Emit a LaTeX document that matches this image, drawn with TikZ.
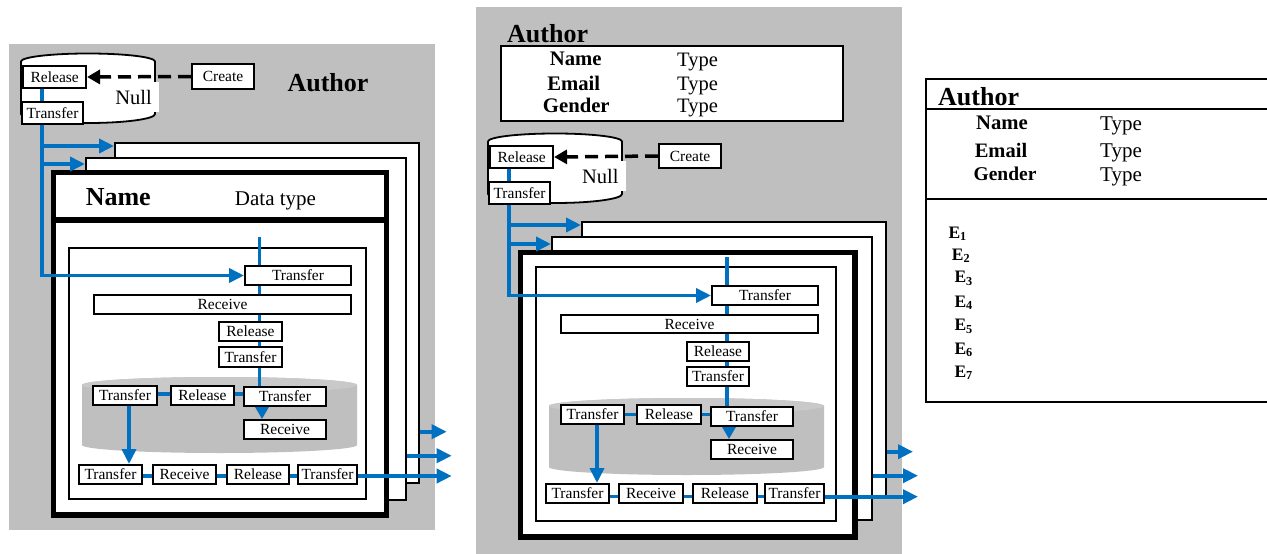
\documentclass[tikz,border=0pt]{standalone}
\usepackage{fontspec}
\setmainfont{Liberation Serif}
\usetikzlibrary{arrows.meta,calc}
\definecolor{bgray}{RGB}{191,191,191}
\definecolor{ctop}{RGB}{201,201,201}
\definecolor{myblue}{RGB}{0,112,192}
\newcommand\myfs[1]{\fontsize{#1pt}{#1pt}\selectfont}
\tikzset{
  bx/.style={draw, fill=white, line width=2pt, inner sep=0pt, font=\myfs{15.5}, minimum height=19pt},
  card/.style={draw, fill=white, line width=2pt, inner sep=0pt},
  frame/.style={draw, line width=2pt, inner sep=0pt},
  blu/.style={draw=myblue, line width=3.6pt},
  arr/.style={blu, -{Triangle[length=15pt,width=14pt]}},
  arrs/.style={blu, -{Triangle[length=12pt,width=13pt]}},
  dsh/.style={line width=3.5pt, dash pattern=on 13pt off 7pt, -{Triangle[length=13pt,width=14pt]}},
  lbl/.style={inner sep=0pt},
}
\begin{document}
\begin{tikzpicture}[x=1pt,y=-1pt]
\useasboundingbox (0,0) rectangle (1267,554);
\fill[white] (0,0) rectangle (1267,554);

%================ PANEL 1 =================
\fill[bgray] (9,44) rectangle (435,530);
% cylinder
\draw[line width=1.8pt, fill=white] (21,61.5) arc[start angle=180, end angle=0, x radius=67pt, y radius=8pt]
  -- (155,114) arc[start angle=0, end angle=-180, x radius=67pt, y radius=9pt] -- cycle;
\node[fill=white, inner xsep=7pt, inner ysep=0pt, minimum height=30pt, font=\myfs{20.5}] (n1) at (133.5,97) {Null};
\node[bx, minimum width=62.7pt, minimum height=22.6pt] (r1) at (54.7,77) {Release};
\node[bx, minimum width=61.6pt, minimum height=22.3pt] (t1) at (52.5,112.8) {Transfer};
\node[bx, minimum width=62pt, minimum height=25pt] (c1) at (223,76.5) {Create};
\draw[dsh] (c1.west) -- (r1.east);
\node[lbl, anchor=base, font=\bfseries\myfs{26}] (au1) at (328,91.7) {Author};

% cards
\node[card, minimum width=303.5pt, minimum height=340pt] (k1a) at (266.75,313) {};
\node[card, minimum width=319.7pt, minimum height=342pt] (k1b) at (245.85,329) {};
\node[card, line width=5.5pt, minimum width=332.8pt, minimum height=342.5pt] (k1c) at (220,343.75) {};
\draw[line width=5.5pt] ([yshift=-50pt]k1c.north west) -- ([yshift=-50pt]k1c.north east);
\node[lbl, anchor=base, font=\bfseries\myfs{26}] (nm1) at (118.3,205.7) {Name};
\node[lbl, anchor=base, font=\myfs{21}] (dt1) at (275.5,205.7) {Data type};
\node[frame, minimum width=297pt, minimum height=251pt] (i1) at (217.5,373.5) {};

% gray cylinder
\fill[bgray] (82,385) arc[start angle=180, end angle=0, x radius=137.5pt, y radius=8pt]
  -- (357,445) arc[start angle=0, end angle=-180, x radius=137.5pt, y radius=8pt] -- cycle;
\fill[ctop] (219.5,385) ellipse[x radius=137.5pt, y radius=8pt];

% boxes
\node[bx, minimum width=106pt] (a1) at (298,275.5) {Transfer};
\node[bx, minimum width=257pt] (a2) at (222.5,304.5) {Receive};
\node[bx, minimum width=63pt] (a3) at (250.5,331.5) {Release};
\node[bx, minimum width=63pt, minimum height=20pt] (a4) at (250.5,357) {Transfer};
\node[bx, minimum width=64pt] (a5) at (125,395.5) {Transfer};
\node[bx, minimum width=63pt] (a6) at (202.5,395.5) {Release};
\node[bx, minimum width=82pt] (a7) at (285,396.5) {Transfer};
\node[bx, minimum width=82pt] (a8) at (285,429.5) {Receive};
\node[bx, minimum width=63pt] (a9) at (110.5,474.5) {Transfer};
\node[bx, minimum width=63pt] (a10) at (184.5,474.5) {Receive};
\node[bx, minimum width=62pt] (a11) at (258,474.5) {Release};
\node[bx, minimum width=59pt] (a12) at (327.5,474.5) {Transfer};

% blue connectors
\coordinate (p1c) at (41.7,275.5);
\coordinate (b11) at (41.7,146);
\coordinate (b12) at (41.7,164);
\draw[blu] (r1.south -| p1c) -- (t1.north -| p1c);
\draw[arr] (t1.south -| p1c) -- (p1c) -- (a1.west);
\draw[arr] (b11) -- (b11 -| k1a.west);
\draw[arr] (b12) -- (b12 -| k1b.west);
\coordinate (v1) at (259.5,237);
\draw[blu] (v1) -- (a1.north -| v1);
\draw[blu] (a1.south -| v1) -- (a2.north -| v1);
\draw[blu] (a2.south -| v1) -- (a3.north -| v1);
\draw[blu] (a3.south -| v1) -- (a4.north -| v1);
\draw[blu] (a4.south -| v1) -- (a7.north -| v1);
\draw[blu] ([yshift=1.5pt]a5.east) -- ([yshift=1.5pt]a6.west);
\draw[blu] ([yshift=1.5pt]a6.east) -- ([yshift=1.5pt]a6.east -| a7.west);
\draw[arrs] ([xshift=-23pt]a7.south) -- ([xshift=-23pt]a7.south |- a8.north);
\draw[arr] ([xshift=4pt]a5.south) -- ([xshift=4pt]a5.south |- a9.north);
\draw[blu] ([yshift=-1.5pt]a9.east) -- ([yshift=-1.5pt]a10.west);
\draw[blu] ([yshift=-1.5pt]a10.east) -- ([yshift=-1.5pt]a11.west);
\draw[blu] ([yshift=-1.5pt]a11.east) -- ([yshift=-1.5pt]a12.west);
\coordinate (o11) at (446.7,431.7);
\coordinate (o12) at (451.7,455.7);
\coordinate (o13) at (451.7,476);
\draw[arr] (k1a.east |- o11) -- (o11);
\draw[arr] (k1b.east |- o12) -- (o12);
\draw[arr] (a12.east |- o13) -- (o13);

%================ PANEL 2 =================
\fill[bgray] (476,7) rectangle (902,554);
\node[lbl, anchor=base west, font=\bfseries\myfs{26}] (au2) at (507,42.7) {Author};
\node[frame, fill=white, minimum width=342pt, minimum height=75pt] (att2) at (672,83.5) {};
\node[lbl, anchor=base, font=\bfseries\myfs{20.7}] (f21) at (575.8,65) {Name};
\node[lbl, anchor=base, font=\bfseries\myfs{20.7}] (f22) at (573.7,90.7) {Email};
\node[lbl, anchor=base, font=\bfseries\myfs{20.7}] (f23) at (576.3,112.7) {Gender};
\node[lbl, anchor=base west, font=\myfs{20.5}] (y21) at (677,66) {Type};
\node[lbl, anchor=base west, font=\myfs{20.5}] (y22) at (677,90.3) {Type};
\node[lbl, anchor=base west, font=\myfs{20.5}] (y23) at (677,112.7) {Type};

\draw[line width=1.8pt, fill=white] (488,141.5) arc[start angle=180, end angle=0, x radius=67pt, y radius=8pt]
  -- (622,194) arc[start angle=0, end angle=-180, x radius=67pt, y radius=9pt] -- cycle;
\node[fill=white, inner xsep=7pt, inner ysep=0pt, minimum height=30pt, font=\myfs{20.5}] (n2) at (600.3,176) {Null};
\node[bx, minimum width=62.7pt, minimum height=22.6pt] (r2) at (521.7,157) {Release};
\node[bx, minimum width=61.6pt, minimum height=22.3pt] (t2) at (519.5,192.8) {Transfer};
\node[bx, minimum width=62pt, minimum height=24pt] (c2) at (690,156) {Create};
\draw[dsh] (c2.west) -- (r2.east);

\node[card, minimum width=304pt, minimum height=275pt] (k2a) at (734,359.5) {};
\node[card, minimum width=320pt, minimum height=283pt] (k2b) at (712,378.5) {};
\node[card, line width=5.5pt, minimum width=334.5pt, minimum height=284.5pt] (k2c) at (687.75,394.75) {};
\node[frame, minimum width=300pt, minimum height=254pt] (i2) at (685.7,393.7) {};

\fill[bgray] (549,406) arc[start angle=180, end angle=0, x radius=137.5pt, y radius=8pt]
  -- (824,467) arc[start angle=0, end angle=-180, x radius=137.5pt, y radius=8pt] -- cycle;
\fill[ctop] (686.5,406) ellipse[x radius=137.5pt, y radius=8pt];

\node[bx, minimum width=106pt] (d1) at (765,295.5) {Transfer};
\node[bx, minimum width=257pt, minimum height=18pt] (d2) at (689.5,324) {Receive};
\node[bx, minimum width=62pt] (d3) at (718,351.5) {Release};
\node[bx, minimum width=62pt] (d4) at (718,376.5) {Transfer};
\node[bx, minimum width=63pt] (d5) at (592.5,414.5) {Transfer};
\node[bx, minimum width=64pt] (d6) at (669,414.5) {Release};
\node[bx, minimum width=82pt] (d7) at (752,416.5) {Transfer};
\node[bx, minimum width=82pt] (d8) at (752,449.5) {Receive};
\node[bx, minimum width=63pt] (d9) at (577.5,493.5) {Transfer};
\node[bx, minimum width=64pt] (d10) at (651,493.5) {Receive};
\node[bx, minimum width=64pt] (d11) at (725,493.5) {Release};
\node[bx, minimum width=59pt] (d12) at (794.5,493.5) {Transfer};

\coordinate (p2c) at (508.7,295.5);
\coordinate (b21) at (508.7,225);
\coordinate (b22) at (508.7,244);
\draw[blu] (r2.south -| p2c) -- (t2.north -| p2c);
\draw[arr] (t2.south -| p2c) -- (p2c) -- (d1.west);
\draw[arr] (b21) -- (b21 -| k2a.west);
\draw[arr] (b22) -- (b22 -| k2b.west);
\coordinate (v2) at (726.8,257);
\draw[blu] (v2) -- (d1.north -| v2);
\draw[blu] (d1.south -| v2) -- (d2.north -| v2);
\draw[blu] (d2.south -| v2) -- (d3.north -| v2);
\draw[blu] (d3.south -| v2) -- (d4.north -| v2);
\draw[blu] (d4.south -| v2) -- (d7.north -| v2);
\draw[blu] (d5.east) -- (d6.west);
\draw[blu] (d6.east) -- (d6.east -| d7.west);
\draw[arrs] ([xshift=-23pt]d7.south) -- ([xshift=-23pt]d7.south |- d8.north);
\draw[arr] ([xshift=4.5pt]d5.south) -- ([xshift=4.5pt]d5.south |- d9.north);
\draw[blu] ([yshift=-3pt]d9.east) -- ([yshift=-3pt]d10.west);
\draw[blu] ([yshift=-3pt]d10.east) -- ([yshift=-3pt]d11.west);
\draw[blu] ([yshift=-3pt]d11.east) -- ([yshift=-3pt]d12.west);
\coordinate (o21) at (913,451.7);
\coordinate (o22) at (918,475.7);
\coordinate (o23) at (918,496.7);
\draw[arr] (k2a.east |- o21) -- (o21);
\draw[arr] (k2b.east |- o22) -- (o22);
\draw[arr] (d12.east |- o23) -- (o23);

%================ PANEL 3 =================
\draw[line width=2.5pt] (1267,79) -- (926,79) -- (926,402) -- (1267,402);
\draw[line width=2.5pt] (926,109) -- (1267,109);
\draw[line width=2.5pt] (926,199) -- (1267,199);
\node[lbl, anchor=base west, font=\bfseries\myfs{26}] (au3) at (938,105) {Author};
\node[lbl, anchor=base, font=\bfseries\myfs{20.7}] (f31) at (1002,129.3) {Name};
\node[lbl, anchor=base, font=\bfseries\myfs{20.5}] (f32) at (1001,157.3) {Email};
\node[lbl, anchor=base, font=\bfseries\myfs{19.5}] (f33) at (1005,180) {Gender};
\node[lbl, anchor=base west, font=\myfs{21}] (y31) at (1100,130) {Type};
\node[lbl, anchor=base west, font=\myfs{21}] (y32) at (1100,157.3) {Type};
\node[lbl, anchor=base west, font=\myfs{21}] (y33) at (1100,181.7) {Type};
\node[lbl, anchor=base west, font=\bfseries\myfs{17.5}] (e1) at (948.3,238.3) {E\textsubscript{1}};
\node[lbl, anchor=base west, font=\bfseries\myfs{17.5}] (e2) at (951.7,260) {E\textsubscript{2}};
\node[lbl, anchor=base west, font=\bfseries\myfs{17.5}] (e3) at (954.3,282.7) {E\textsubscript{3}};
\node[lbl, anchor=base west, font=\bfseries\myfs{17.5}] (e4) at (954.3,307.3) {E\textsubscript{4}};
\node[lbl, anchor=base west, font=\bfseries\myfs{17.5}] (e5) at (954.3,330.7) {E\textsubscript{5}};
\node[lbl, anchor=base west, font=\bfseries\myfs{17.5}] (e6) at (954.3,354) {E\textsubscript{6}};
\node[lbl, anchor=base west, font=\bfseries\myfs{17.5}] (e7) at (954.3,377.3) {E\textsubscript{7}};
\end{tikzpicture}
\end{document}
